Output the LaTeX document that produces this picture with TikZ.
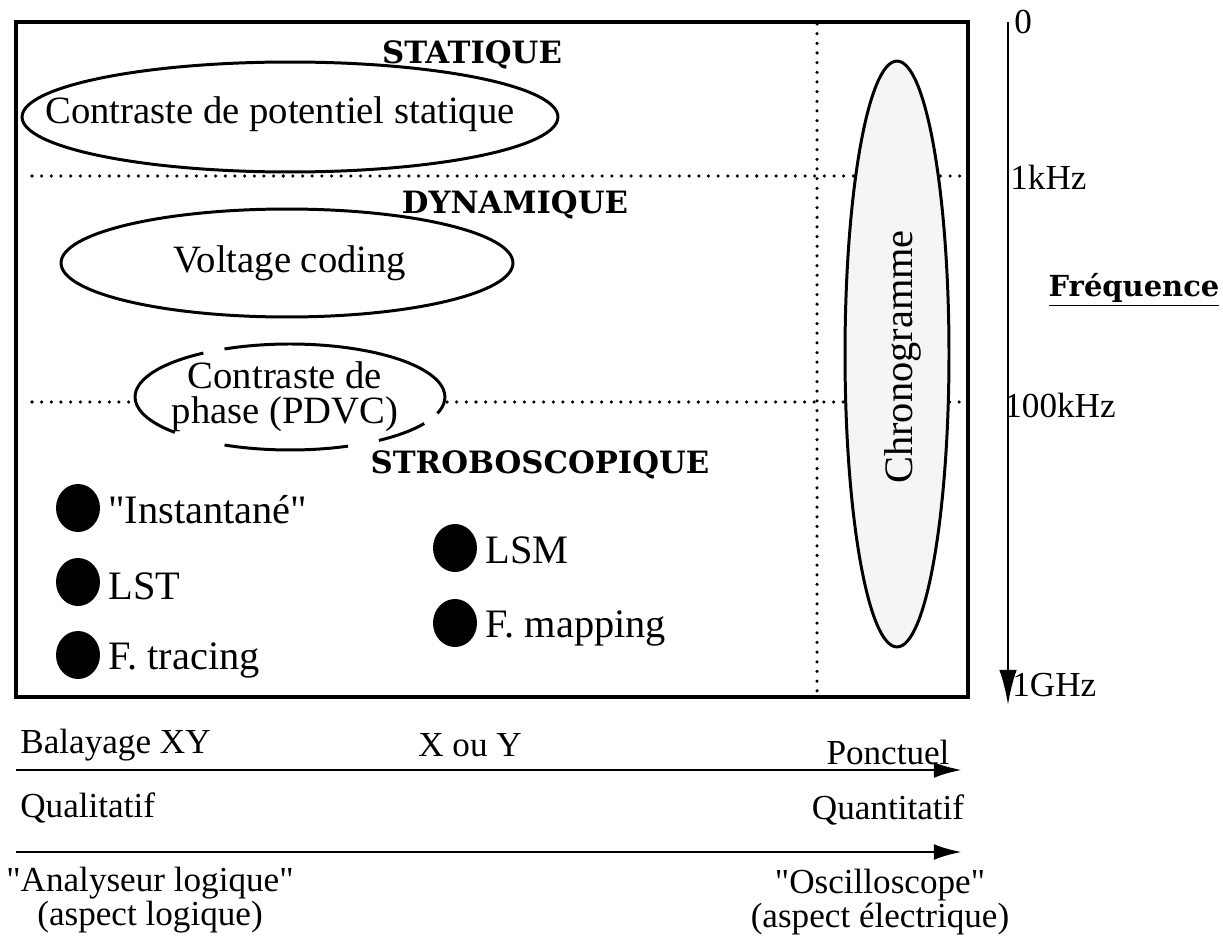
\documentclass[tikz,border=0pt]{standalone}
\usepackage{fontspec}
\setmainfont{Liberation Serif}
\newfontfamily\hdfont{DejaVu Serif}
\usetikzlibrary{shapes.geometric,arrows.meta}
\begin{document}
\begin{tikzpicture}[x=0.02cm,y=-0.02cm,
  txt/.style={font=\fontsize{22}{24}\selectfont, inner sep=0pt},
  hd/.style={font=\hdfont\bfseries\fontsize{17.5}{19}\selectfont, inner sep=0pt},
  ln/.style={line width=1.7pt},
  dots/.style={line width=2pt, line cap=round, dash pattern=on 0pt off 5.5pt},
  bul/.style={fill=black, ellipse, minimum width=0.88cm, minimum height=0.96cm, inner sep=0pt},
  lab/.style={font=\fontsize{23}{25}\selectfont, anchor=west, inner sep=0pt},
  bot/.style={font=\fontsize{20}{22}\selectfont, inner sep=0pt},
  axl/.style={font=\fontsize{20}{22}\selectfont, anchor=west, inner sep=0pt},
  arr/.style={line width=1.6pt, -{Latex[length=16pt,width=9pt]}},
]
\useasboundingbox (0,0) rectangle (1223,939);
% frame
\draw[line width=2.8pt] (16,22) rectangle (968,697);
% dotted guides
\coordinate (d1l) at (32,176);
\coordinate (d1r) at (968,176);
\coordinate (vt) at (817,24);
\coordinate (vb) at (817,697);
\draw[dots] (d1l) -- (d1r);
\draw[dots] (vt) -- (vb);
% headings
\node[hd] (stat) at (472,55) {STATIQUE};
\node[hd] (dyn) at (515,205) {DYNAMIQUE};
\node[hd] (strob) at (540,465) {STROBOSCOPIQUE};
% ellipses
\coordinate (c1) at (290,117);
\draw[ln, fill=white] (c1) ellipse [x radius=5.36cm, y radius=1.1cm];
\node[txt] (e1) at (280,114) {Contraste de potentiel statique};
\coordinate (c2) at (287,263);
\draw[ln] (c2) ellipse [x radius=4.52cm, y radius=1.08cm];
\node[txt] (e2) at (290,263) {Voltage coding};
% broken ellipse
\coordinate (c3) at (290,397);
\node[txt, align=center, font=\fontsize{22}{20}\selectfont] (e3) at (285,397) {Contraste de\\phase (PDVC)};
\draw[ln] ([shift={(115:3.1cm and 1.06cm)}]c3) arc[start angle=115, end angle=-18, x radius=3.1cm, y radius=1.06cm];
\draw[ln] ([shift={(124:3.1cm and 1.06cm)}]c3) arc[start angle=124, end angle=222, x radius=3.1cm, y radius=1.06cm];
\draw[ln] ([shift={(245:3.1cm and 1.06cm)}]c3) arc[start angle=245, end angle=292, x radius=3.1cm, y radius=1.06cm];
\draw[ln] ([shift={(305:3.1cm and 1.06cm)}]c3) arc[start angle=305, end angle=330, x radius=3.1cm, y radius=1.06cm];
\coordinate (d2l) at (32,402);
\coordinate (d2a) at (134,402);
\coordinate (d2b) at (447,402);
\coordinate (d2r) at (968,402);
\draw[dots] (d2l) -- (d2a);
\draw[dots] (d2b) -- (d2r);
% chronogramme
\node[draw, ellipse, ln, fill=gray!8, minimum width=2.08cm, minimum height=11.72cm, inner sep=0pt] (chr) at (897,354) {};
\node[font=\fontsize{23}{25}\selectfont, rotate=90, inner sep=0pt] (chrt) at (903,357) {Chronogramme};
% bullets
\node[bul] (b1) at (78,508) {};
\node[bul] (b2) at (78,582) {};
\node[bul] (b3) at (78,655) {};
\node[bul] (b4) at (455,548) {};
\node[bul] (b5) at (455,623) {};
\node[lab] (l1) at (108,510) {\textquotedbl Instantané\textquotedbl};
\node[lab] (l2) at (108,586) {LST};
\node[lab] (l3) at (108,660) {F. tracing};
\node[lab] (l4) at (485,550) {LSM};
\node[lab] (l5) at (485,628) {F. mapping};
% frequency axis
\coordinate (ft) at (1008,22);
\coordinate (fb) at (1008,705);
\draw[line width=1.6pt, -{Latex[length=20pt,width=10pt]}] (ft) -- (fb);
\node[axl] (f0) at (1014,22) {0};
\node[axl] (f1) at (1010,177) {1kHz};
\node[axl] (f2) at (1004,405) {100kHz};
\node[axl] (f3) at (1012,685) {1GHz};
\node[hd, font=\hdfont\bfseries\fontsize{16.5}{18}\selectfont] (freq) at (1134,290) {\underline{Fréquence}};
% bottom arrows
\coordinate (a1l) at (16,770);
\coordinate (a1r) at (962,770);
\coordinate (a2l) at (16,852);
\coordinate (a2r) at (962,852);
\draw[arr] (a1l) -- (a1r);
\draw[arr] (a2l) -- (a2r);
\node[bot, anchor=west] (bxy) at (20,745) {Balayage XY};
\node[bot] (xy) at (470,745) {X ou Y};
\node[bot] (pon) at (888,752) {Ponctuel};
\node[bot, anchor=west] (qual) at (20,808) {Qualitatif};
\node[bot] (quan) at (888,810) {Quantitatif};
\node[bot, align=center, font=\fontsize{20}{17.5}\selectfont] (ana) at (150,900) {\textquotedbl Analyseur logique\textquotedbl\\(aspect logique)};
\node[bot, align=center, font=\fontsize{20}{17.5}\selectfont] (osc) at (880,902) {\textquotedbl Oscilloscope\textquotedbl\\(aspect électrique)};
\end{tikzpicture}
\end{document}
